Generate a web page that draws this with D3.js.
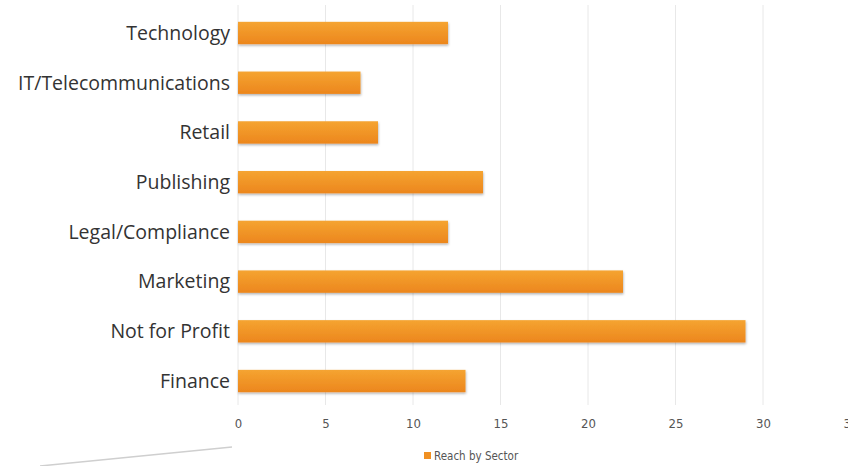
<!DOCTYPE html>
<html>
<head>
<meta charset="utf-8">
<script src="https://cdn.jsdelivr.net/npm/d3@7"></script>
<style>
  html, body { margin: 0; padding: 0; background: #fff; }
  svg { display: block; }
</style>
</head>
<body>
<svg id="chart" width="848" height="466"></svg>
<script>
const categories = ["Technology", "IT/Telecommunications", "Retail", "Publishing", "Legal/Compliance", "Marketing", "Not for Profit", "Finance"];
const values = [12, 7, 8, 14, 12, 22, 29, 13];
const tickValues = [0, 5, 10, 15, 20, 25, 30, 35];
const seriesName = "Reach by Sector";

const svg = d3.select("#chart");
const defs = svg.append("defs");
const grad = defs.append("linearGradient").attr("id", "barGrad").attr("x1", 0).attr("y1", 0).attr("x2", 0).attr("y2", 1);
grad.append("stop").attr("offset", "0%").attr("stop-color", "#F5A431");
grad.append("stop").attr("offset", "100%").attr("stop-color", "#EC861D");
const filt = defs.append("filter").attr("id", "shadow").attr("x", "-5%").attr("y", "-20%").attr("width", "110%").attr("height", "160%");
filt.append("feDropShadow").attr("dx", 0.5).attr("dy", 1.5).attr("stdDeviation", 1).attr("flood-color", "#000").attr("flood-opacity", 0.3);

const x = d3.scaleLinear().domain([0, 35]).range([238, 850.5]);
const y = d3.scaleBand().domain(categories).range([8.15, 405.9]).paddingInner(0.55).paddingOuter(0.275);

// gridlines
svg.append("g").selectAll("line").data(tickValues).join("line")
  .attr("x1", d => x(d)).attr("x2", d => x(d))
  .attr("y1", 5).attr("y2", 405)
  .attr("stroke", "#e8e8e8").attr("stroke-width", 1);

// bars
svg.append("g").selectAll("rect").data(values).join("rect")
  .attr("x", x(0))
  .attr("y", (d, i) => y(categories[i]))
  .attr("width", d => x(d) - x(0))
  .attr("height", y.bandwidth())
  .attr("fill", "url(#barGrad)")
  .attr("filter", "url(#shadow)");

// y labels
svg.append("g").selectAll("text").data(categories).join("text")
  .attr("x", 230)
  .attr("y", d => y(d) + y.bandwidth() / 2)
  .attr("dy", "0.35em")
  .attr("text-anchor", "end")
  .attr("font-family", "'Open Sans', 'Noto Sans', sans-serif")
  .attr("font-size", 19.5)
  .attr("fill", "#333")
  .text(d => d);

// x axis tick labels
const xAxis = d3.axisBottom(x).tickValues(tickValues).tickSize(0).tickPadding(0);
const gx = svg.append("g").attr("transform", "translate(0,419)").call(xAxis);
gx.select(".domain").remove();
gx.selectAll("text")
  .attr("font-family", "'Liberation Sans Narrow', 'DejaVu Sans Condensed', sans-serif")
  .attr("font-size", 13)
  .attr("fill", "#555");

// legend
const lg = svg.append("g").attr("transform", "translate(424,456)");
lg.append("rect").attr("x", 0).attr("y", -4).attr("width", 7).attr("height", 7).attr("fill", "#F09022");
lg.append("text").attr("x", 10).attr("y", 0).attr("dy", "0.35em")
  .attr("font-family", "'Liberation Sans Narrow', 'DejaVu Sans Condensed', sans-serif")
  .attr("font-size", 11.5).attr("fill", "#555").text(seriesName);

// decorative line bottom-left
svg.append("line").attr("x1", 40).attr("y1", 466).attr("x2", 232).attr("y2", 447)
  .attr("stroke", "#cfcfcf").attr("stroke-width", 1.5);
</script>
</body>
</html>
